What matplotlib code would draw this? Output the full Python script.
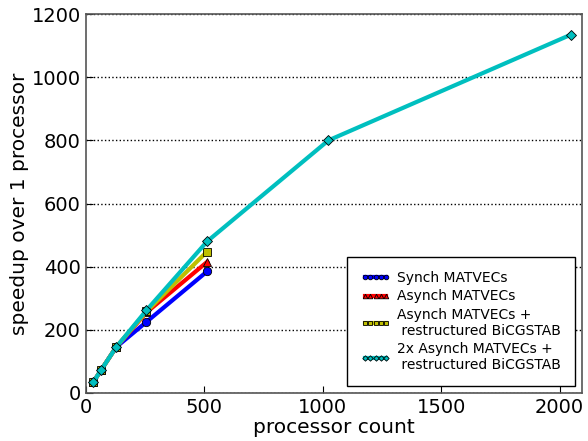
import matplotlib
matplotlib.use('Agg')
import matplotlib.pyplot as plt

# processor counts and speedups
procs = [32, 64, 128, 256, 512, 1024, 2048]
synch = [35, 72, 145, 225, 385]
asynch = [35, 72, 145, 255, 415]
asynch_restr = [35, 72, 145, 258, 448]
asynch2x_restr = [35, 72, 145, 262, 480, 800, 1135]

labels = ['Synch MATVECs',
          'Asynch MATVECs',
          'Asynch MATVECs +\n restructured BiCGSTAB',
          '2x Asynch MATVECs +\n restructured BiCGSTAB']

fig = plt.figure(figsize=(5.88, 4.41), dpi=100)
ax = fig.add_axes([0.146, 0.109, 0.844, 0.859])

ax.plot(procs[:5], synch, color=(0, 0, 1), lw=3, marker='o', ms=6,
        mec='k', mew=0.6, label=labels[0])
ax.plot(procs[:5], asynch, color=(1, 0, 0), lw=3, marker='^', ms=6,
        mec='k', mew=0.6, label=labels[1])
ax.plot(procs[:5], asynch_restr, color=(0.75, 0.75, 0), lw=3, marker='s', ms=6,
        mec='k', mew=0.6, label=labels[2])
ax.plot(procs, asynch2x_restr, color=(0, 0.75, 0.75), lw=3, marker='D', ms=5,
        mec='k', mew=0.6, label=labels[3])

ax.set_xlim(0, 2095)
ax.set_ylim(0, 1200)
ax.set_xticks([0, 500, 1000, 1500, 2000])
ax.set_yticks([0, 200, 400, 600, 800, 1000, 1200])
ax.tick_params(direction='in', labelsize=14, length=5, color='k')
ax.yaxis.grid(True, linestyle=':', color='k', lw=1)
for s in ax.spines.values():
    s.set_color('#555555')
    s.set_linewidth(1.2)

ax.set_xlabel('processor count', fontsize=14.5, labelpad=1)
ax.set_ylabel('speedup over 1 processor', fontsize=14.5, labelpad=2)

leg = ax.legend(loc='lower right', numpoints=5, markerscale=0.55, fontsize=10,
                fancybox=False, framealpha=1, handlelength=2.15,
                borderaxespad=0.5, borderpad=1.0, labelspacing=0.3,
                handletextpad=0.5)
leg.get_frame().set_edgecolor('k')

fig.savefig('out.png', dpi=100)
